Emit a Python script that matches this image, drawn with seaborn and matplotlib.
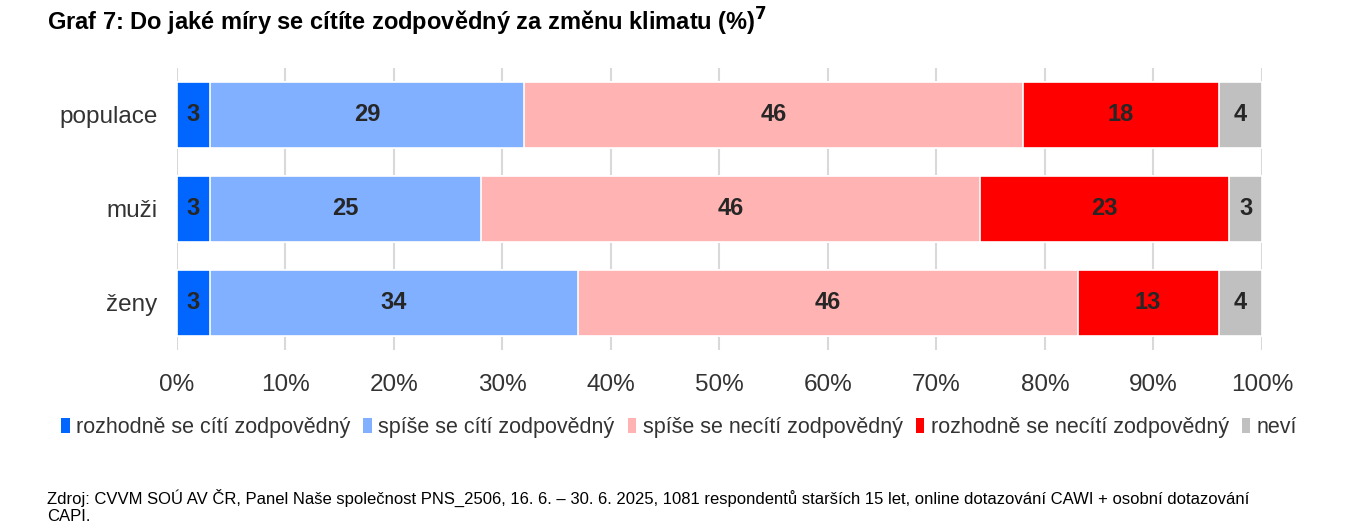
import matplotlib
matplotlib.use("Agg")
import matplotlib.pyplot as plt
import seaborn as sns
import pandas as pd
import numpy as np
from matplotlib.patches import Patch

categories = ["populace", "muži", "ženy"]
series_names = ["rozhodně se cítí zodpovědný", "spíše se cítí zodpovědný",
                "spíše se necítí zodpovědný", "rozhodně se necítí zodpovědný", "neví"]
v_rozhodne_ano = [3, 3, 3]
v_spise_ano = [29, 25, 34]
v_spise_ne = [46, 46, 46]
v_rozhodne_ne = [18, 23, 13]
v_nevi = [4, 3, 4]
tick_labels = ["0%", "10%", "20%", "30%", "40%", "50%", "60%", "70%", "80%", "90%", "100%"]
colors = ["#0066FF", "#80B0FF", "#FFB3B3", "#FF0000", "#C0C0C0"]

sns.set_theme(style="white")
plt.rcParams['font.family'] = ['Liberation Sans', 'DejaVu Sans']

values = [v_rozhodne_ano, v_spise_ano, v_spise_ne, v_rozhodne_ne, v_nevi]
arr = np.array(values, dtype=float)
cum = np.cumsum(arr, axis=0)

fig = plt.figure(figsize=(13.5, 5.29), dpi=100)
ax = fig.add_axes([0.1311, 0.3384, 0.8037, 0.5331])

for i in range(len(series_names) - 1, -1, -1):
    df = pd.DataFrame({"kat": categories, "cum": cum[i]})
    sns.barplot(data=df, x="cum", y="kat", orient="h", color=colors[i],
                saturation=1, width=0.70, edgecolor="white", linewidth=1.2,
                ax=ax, zorder=2)

for i in range(len(series_names)):
    for j, cat in enumerate(categories):
        x = cum[i][j] - arr[i][j] / 2
        ax.text(x, j, f"{int(arr[i][j])}", ha="center", va="center",
                fontsize=17, fontweight="bold", color="#262626", zorder=3)

ax.set_xlim(0, 100)
ax.set_ylim(2.5, -0.5)
ax.set_xticks(np.arange(0, 101, 10))
ax.set_xticklabels(tick_labels)
ax.set_xlabel("")
ax.set_ylabel("")
ax.grid(axis="x", color="#D9D9D9", linewidth=1.5, zorder=0)
ax.set_axisbelow(True)
for s in ax.spines.values():
    s.set_visible(False)
ax.tick_params(axis="x", labelsize=17.5, colors="#333333", pad=17, length=0)
ax.tick_params(axis="y", labelsize=17.5, colors="#333333", pad=14, length=0)

handles = [Patch(facecolor=c, edgecolor="none") for c in colors]
fig.legend(handles, series_names, loc="center", bbox_to_anchor=(0.503, 0.191),
           ncol=5, frameon=False, fontsize=15.5, handlelength=0.4, handleheight=0.7,
           handletextpad=0.3, columnspacing=0.6, labelcolor="#333333")

fig.text(0.035, 0.958, "Graf 7: Do jaké míry se cítíte zodpovědný za změnu klimatu (%)$^{\\mathbf{7}}$",
         fontsize=17, fontweight="bold", color="black", ha="left", va="center")
fig.text(0.035, 0.042, "Zdroj: CVVM SOÚ AV ČR, Panel Naše společnost PNS_2506, 16. 6. – 30. 6. 2025, "
         "1081 respondentů starších 15 let, online dotazování CAWI + osobní dotazování\nCAPI.",
         fontsize=12, color="black", ha="left", va="center", linespacing=1.15)

fig.savefig("out.png", dpi=100)
